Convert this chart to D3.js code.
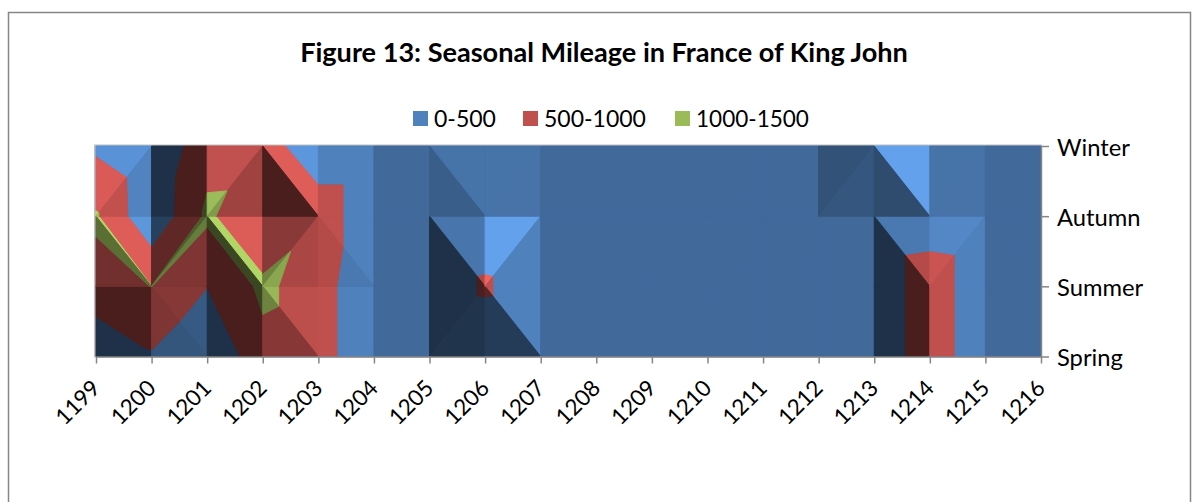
<!DOCTYPE html>
<meta charset="utf-8">
<script src="https://cdn.jsdelivr.net/npm/d3@7/dist/d3.min.js"></script>
<style>
body { margin: 0; background: #fff; }
text { font-family: Lato, "Open Sans", sans-serif; fill: #000; }
</style>
<body>
<script>

// mileage per season, one value per year
var years = [1199, 1200, 1201, 1202, 1203, 1204, 1205, 1206, 1207, 1208,
             1209, 1210, 1211, 1212, 1213, 1214, 1215, 1216];
var seasons = ["Spring", "Summer", "Autumn", "Winter"];

var spring = [0, 450, 0, 850, 750, 0, 0, 50, 0, 0, 0, 0, 0, 0, 0, 890, 0, 0];
var summer = [880, 1005, 510, 1100, 750, 0, 0, 580, 0, 0, 0, 0, 0, 0, 0, 890, 0, 0];
var autumn = [1050, 90, 1090, 520, 900, 0, 0, 100, 0, 0, 0, 0, 0, 0, 0, 100, 0, 0];
var winter = [400, 50, 820, 840, 0, 0, 0, 0, 0, 0, 0, 0, 0, 0, 200, 0, 0, 0];

var bandLabels = ["0-500", "500-1000", "1000-1500"];
var bandBreaks = [0, 500, 1000, 1500];
var bandColors = ["#4F81BD", "#C0504D", "#9BBB59"];

var width = 1200, height = 502;

var svg = d3.select("body").append("svg")
    .attr("width", width)
    .attr("height", height);

// chart frame
svg.append("rect")
    .attr("x", 8.5).attr("y", 12.5)
    .attr("width", 1182).attr("height", 540)
    .attr("fill", "none")
    .attr("stroke", "#868686")
    .attr("stroke-width", 1.5);

var x = d3.scaleLinear().domain([1199, 1216]).range([96, 1041]);
var y = d3.scalePoint().domain(seasons).range([356.5, 146]);
var color = d3.scaleOrdinal().domain(bandLabels).range(bandColors);
var zk = 0.1; // height (px per mile) used for the lighting only

var grid = [spring, summer, autumn, winter];

function node(i, j) {
  return {x: x(years[i]), y: y(seasons[j]), v: grid[j][i]};
}

// split every cell in two triangles along the "higher" diagonal
var tris = [];
for (var i = 0; i < years.length - 1; i++) {
  for (var j = 0; j < seasons.length - 1; j++) {
    var bl = node(i, j), br = node(i + 1, j),
        tl = node(i, j + 1), tr = node(i + 1, j + 1);
    if (tl.v + br.v >= tr.v + bl.v) {
      tris.push([tl, tr, br]);
      tris.push([tl, bl, br]);
    } else {
      tris.push([tl, tr, bl]);
      tris.push([tr, br, bl]);
    }
  }
}

// light from the top right, plus a small highlight
var hl = [0.251, -0.357, 0.9];
var hlen = Math.sqrt(hl[0] * hl[0] + hl[1] * hl[1] + hl[2] * hl[2]);
hl = hl.map(function(d) { return d / hlen; });

function shade(t) {
  var ax = t[1].x - t[0].x, ay = t[1].y - t[0].y, av = zk * (t[1].v - t[0].v);
  var bx = t[2].x - t[0].x, by = t[2].y - t[0].y, bv = zk * (t[2].v - t[0].v);
  var nx = ay * bv - av * by,
      ny = av * bx - ax * bv,
      nz = ax * by - ay * bx;
  if (nz < 0) { nx = -nx; ny = -ny; nz = -nz; }
  var len = Math.sqrt(nx * nx + ny * ny + nz * nz);
  nx /= len; ny /= len; nz /= len;
  var m = -ny;
  var f = 0.82 + 0.45 * nx - 0.28 * nx * nx + 0.46 * m - 0.3 * m * m;
  var h = Math.max(0, nx * hl[0] + ny * hl[1] + nz * hl[2]);
  f += 5 * Math.pow(h, 100);
  return Math.min(1.25, Math.max(0.38, f));
}

function clip(poly, t, above) {
  var out = [];
  for (var k = 0; k < poly.length; k++) {
    var a = poly[k], b = poly[(k + 1) % poly.length];
    var ina = above ? a.v >= t : a.v <= t;
    var inb = above ? b.v >= t : b.v <= t;
    if (ina) out.push(a);
    if (ina !== inb) {
      var s = (t - a.v) / (b.v - a.v);
      out.push({x: a.x + s * (b.x - a.x), y: a.y + s * (b.y - a.y), v: t});
    }
  }
  return out;
}

function tint(c, f) {
  c = d3.rgb(c);
  return d3.rgb(Math.min(255, c.r * f), Math.min(255, c.g * f), Math.min(255, c.b * f)).formatHex();
}

var pieces = [];
tris.forEach(function(t) {
  var f = shade(t);
  bandLabels.forEach(function(lab, b) {
    var p = clip(clip(t, bandBreaks[b], true), bandBreaks[b + 1], false);
    if (p.length >= 3) {
      pieces.push({pts: p, fill: tint(color(lab), f)});
    }
  });
});

// plot walls
svg.append("rect")
    .attr("x", 95).attr("y", 145.5)
    .attr("width", 946).attr("height", 211)
    .attr("fill", tint(bandColors[0], 0.82))
    .attr("stroke", "#BFBFBF")
    .attr("stroke-width", 2);

var line = d3.line().x(function(d) { return d.x; }).y(function(d) { return d.y; });

svg.append("g")
  .selectAll("path")
  .data(pieces)
  .join("path")
    .attr("d", function(d) { return line(d.pts) + "Z"; })
    .attr("fill", function(d) { return d.fill; })
    .attr("stroke", function(d) { return d.fill; })
    .attr("stroke-width", 1)
    .attr("stroke-linejoin", "round");

// fit a text to a target width
function fit(sel, size, target) {
  sel.attr("font-size", size);
  var w = sel.node().getComputedTextLength();
  sel.attr("font-size", size * target / w);
}

// x axis
var xAxis = svg.append("g")
    .attr("transform", "translate(0,356.5)")
    .call(d3.axisBottom(x).tickValues(years).tickFormat(d3.format("d"))
      .tickSize(7).tickSizeOuter(0));
xAxis.select(".domain").attr("stroke", "#868686").attr("stroke-width", 1.5);
xAxis.selectAll(".tick line").attr("stroke", "#868686").attr("stroke-width", 1.5);
var xt = xAxis.selectAll(".tick text")
    .attr("y", 0).attr("dy", 0)
    .attr("text-anchor", "end")
    .attr("font-family", "Lato")
    .attr("transform", "translate(5,33) rotate(-45)");
fit(d3.select(xt.nodes()[0]), 22, 52);
xt.attr("font-size", d3.select(xt.nodes()[0]).attr("font-size"));

// season axis on the right
var yAxis = svg.append("g")
    .attr("transform", "translate(1041,0)")
    .call(d3.axisRight(y).tickSize(8).tickSizeOuter(0).tickPadding(8));
yAxis.select(".domain").attr("stroke", "#868686").attr("stroke-width", 1.5);
yAxis.selectAll(".tick line").attr("stroke", "#868686").attr("stroke-width", 1.5);
var yt = yAxis.selectAll(".tick text")
    .attr("x", 16).attr("dy", "0.38em")
    .attr("font-family", "Lato");
var winterLabel = yt.filter(function(d) { return d === "Winter"; });
fit(winterLabel, 24, 73);
yt.attr("font-size", winterLabel.attr("font-size"));

// title
var title = svg.append("text")
    .attr("x", 604).attr("y", 62)
    .attr("text-anchor", "middle")
    .attr("font-weight", "bold")
    .text("Figure 13: Seasonal Mileage in France of King John");
fit(title, 26, 608);

// legend
var legendX = [413, 523, 675];
var legendW = [62, 102, 113];
var legend = svg.append("g");
bandLabels.forEach(function(lab, b) {
  legend.append("rect")
      .attr("x", legendX[b]).attr("y", 111)
      .attr("width", 15).attr("height", 15)
      .attr("fill", color(lab));
  var t = legend.append("text")
      .attr("x", legendX[b] + 21).attr("y", 127)
      .text(lab);
  fit(t, 24, legendW[b]);
});

</script>
</body>
